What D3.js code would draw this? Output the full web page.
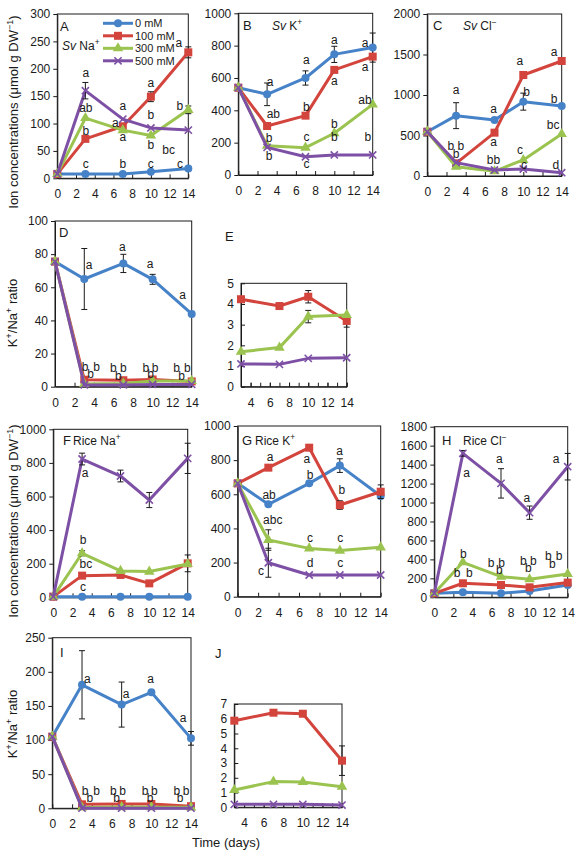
<!DOCTYPE html>
<html><head><meta charset="utf-8">
<script src="https://cdn.jsdelivr.net/npm/d3@7"></script>
<style>
body{margin:0;background:#fff}
svg{display:block}
text{font-family:"Liberation Sans",Arial,sans-serif;fill:#1a1a1a}
</style>
</head><body>
<svg id="chart" width="578" height="852"></svg>
<script>
// ---------- data ----------
const days = [0, 3, 7, 10, 14];
const daysSub = [3, 7, 10, 14];
const treatments = ["0 mM", "100 mM", "300 mM", "500 mM"];
const xTicksFull = [0, 2, 4, 6, 8, 10, 12, 14];
const xTicksSub = [4, 6, 8, 10, 12, 14];
const xMinorSub = [3, 4, 5, 6, 7, 8, 9, 10, 11, 12, 13, 14];

// A: Sv Na+
const svNa = [[8,8,8,12,18],[8,72,95,149,230],[8,110,88,78,125],[8,160,108,92,88]];
const svNaErr = [[0,0,0,0,0],[0,0,0,9,10],[0,0,0,0,7],[0,15,0,0,0]];
const svNaTicks = [0,50,100,150,200,250,300];
const svNaLetters = [[3.05,192,"a"],[3.05,128,"ab"],[3.05,86,"b"],[3.05,27,"c"],[7,132,"a"],[6.2,102,"a"],[7,75,"a"],[7,27,"b"],[10,175,"a"],[10,116,"b"],[10,61,"b"],[10,27,"c"],[13,248,"a"],[13.1,132,"b"],[11.9,52,"bc"],[13.1,27,"c"]];

// B: Sv K+
const svK = [[540,499,600,746,788],[540,303,367,650,732],[540,181,169,258,437],[540,171,113,124,124]];
const svKErr = [[0,70,44,50,90],[0,0,0,0,0],[0,0,0,0,0],[0,0,0,0,0]];
const svKTicks = [0,200,400,600,800,1000];
const svKLetters = [[3.3,577,"a"],[3.65,381,"ab"],[3.2,233,"b"],[3.2,118,"b"],[7.1,715,"a"],[7.1,423,"b"],[7.1,237,"c"],[7.1,68,"c"],[10,835,"a"],[10,581,"a"],[10,315,"b"],[10,237,"b"],[13.2,820,"a"],[13.2,670,"a"],[13.2,464,"ab"],[13.5,237,"b"]];

// C: Sv Cl-
const svCl = [[547,745,691,918,864],[547,156,535,1247,1420],[547,115,58,198,518],[547,165,74,86,41]];
const svClErr = [[0,160,0,105,0],[0,0,0,0,0],[0,0,0,0,0],[0,0,0,0,0]];
const svClTicks = [0,500,1000,1500,2000];
const svClLetters = [[3,1062,"a"],[2.45,374,"b"],[3.5,374,"b"],[3,272,"b"],[6.9,835,"a"],[6.9,424,"a"],[6.9,206,"bb"],[9.65,1420,"a"],[10.35,1041,"b"],[9.65,329,"c"],[10.07,140,"c"],[13.2,1535,"a"],[13.2,959,"b"],[13.1,630,"bc"],[13.4,136,"d"]];

// D: Sv K+/Na+ ratio
const svRatio = [[75.5,65,74.4,64.8,43.9],[75.5,4.23,3.9,4.35,3.18],[75.5,1.69,1.89,3.39,3.47],[75.5,1.1,1.08,1.37,1.4]];
const svRatioErr = [[0,18.4,5.5,3,0],[0,0,0,0,0],[0,0,0,0,0],[0,0,0,0,0]];
const svRatioTicks = [0,20,40,60,80,100];
const svRatioLetters = [[3.5,73.4,"a"],[3.07,12,"b"],[4.27,12,"b"],[3.65,7.6,"b"],[6.9,84.5,"a"],[5.97,11.7,"b"],[7.0,11.7,"b"],[6.5,6.8,"b"],[9.73,74.4,"a"],[9.3,11.7,"b"],[10.24,11.7,"b"],[9.8,7.6,"b"],[13.07,55.3,"a"],[12.46,11.7,"b"],[13.55,11.7,"b"],[12.97,6.8,"b"]];

// E: Sv ratio, salt treatments only
const svRatioSub = [null,[4.23,3.9,4.35,3.18],[1.69,1.89,3.39,3.47],[1.1,1.08,1.37,1.4]];
const svRatioSubErr = [null,[0,0,0.3,0.3],[0,0,0.3,0],[0,0,0,0]];
const svRatioSubTicks = [0,1,2,3,4,5];

// F: Rice Na+
const riceNa = [[4,4,4,4,4],[4,129,133,83,202],[4,262,157,153,198],[4,823,722,579,827]];
const riceNaErr = [[0,0,0,0,0],[0,0,0,0,50],[0,15,0,0,0],[0,35,35,45,90]];
const riceNaTicks = [0,200,400,600,800,1000];
const riceNaLetters = [[3.3,742,"a"],[3.1,345,"b"],[3.4,202,"bc"],[3.1,63,"c"]];

// G: Rice K+
const riceK = [[664,541,664,768,590],[664,756,873,537,615],[664,332,283,270,289],[664,199,127,127,127]];
const riceKErr = [[0,0,0,40,0],[0,0,0,25,40],[0,60,0,0,0],[0,85,0,0,0]];
const riceKTicks = [0,200,400,600,800,1000];
const riceKLetters = [[3.17,820,"a"],[3.07,596,"ab"],[3.43,449,"abc"],[2.29,150,"c"],[6.76,807,"a"],[7.09,717,"b"],[7.09,346,"c"],[7.09,201,"d"],[9.97,855,"a"],[10.2,625,"b"],[10.03,346,"c"],[10.03,201,"c"]];

// H: Rice Cl-
const riceCl = [[42,53,42,67,130],[42,148,130,105,155],[42,369,218,190,246],[42,1519,1202,893,1378]];
const riceClErr = [[0,0,0,0,0],[0,0,0,0,0],[0,0,0,0,0],[0,30,155,70,140]];
const riceClTicks = [0,200,400,600,800,1000,1200,1400,1600,1800];
const riceClLetters = [[3.4,1315,"a"],[3.05,464,"b"],[2.4,260,"b"],[3.67,260,"b"],[6.83,1459,"a"],[5.95,366,"b"],[7.07,366,"b"],[6.83,288,"b"],[9.7,1055,"a"],[9.35,387,"b"],[10.4,387,"b"],[9.87,306,"b"],[12.78,1459,"a"],[11.97,440,"b"],[13.1,440,"b"],[12.4,352,"b"]];

// I: Rice ratio
const riceRatio = [[105,181,152,170,102.5],[105,5.87,6.41,6.34,3.16],[105,1.17,1.74,1.72,1.4],[105,0.2,0.2,0.2,0.15]];
const riceRatioErr = [[0,50,33,0,10],[0,0,0,0,0],[0,0,0,0,0],[0,0,0,0,0]];
const riceRatioTicks = [0,50,100,150,200,250];
const riceRatioLetters = [[3.53,190,"a"],[3.3,25,"b"],[4.48,25,"b"],[3.8,15.6,"b"],[7.44,168,"a"],[6.16,25,"b"],[7.1,25,"b"],[6.5,15.6,"b"],[9.93,190,"a"],[9.36,25,"b"],[10.3,25,"b"],[9.87,15.6,"b"],[13.2,133,"a"],[12.56,25,"b"],[13.5,25,"b"],[12.9,15.6,"b"]];

// J: Rice ratio, salt treatments only
const riceRatioSub = [null,[5.87,6.41,6.34,3.16],[1.17,1.74,1.72,1.4],[0.2,0.2,0.2,0.15]];
const riceRatioSubErr = [null,[0,0,0,1.0],[0,0,0,0],[0,0,0,0]];
const riceRatioSubTicks = [0,1,2,3,4,5,6,7];

// ---------- styles ----------
const colors = ["#4682C8", "#D2443C", "#9BC350", "#7D50A5"];
const markerShapes = ["circle", "square", "triangle", "cross"];

const svg = d3.select("#chart");

function rich(sel, parts) {
  parts.forEach(p => {
    const t = sel.append("tspan").text(p[0]);
    if (p[1] === "it") t.attr("font-style", "italic");
    if (p[1] === "sup") t.attr("baseline-shift", "super").attr("font-size", "70%");
  });
}

function drawMarker(g, shape, cx, cy, color) {
  if (shape === "circle") {
    g.append("circle").attr("cx", cx).attr("cy", cy).attr("r", 4).attr("fill", color);
  } else if (shape === "square") {
    g.append("rect").attr("x", cx - 4).attr("y", cy - 4).attr("width", 8).attr("height", 8).attr("fill", color);
  } else if (shape === "triangle") {
    const s = d3.symbol().type(d3.symbolTriangle).size(48);
    g.append("path").attr("d", s()).attr("transform", `translate(${cx},${cy})`).attr("fill", color);
  } else {
    const r = 3.6;
    g.append("path").attr("d", `M${cx-r},${cy-r}L${cx+r},${cy+r}M${cx-r},${cy+r}L${cx+r},${cy-r}`)
      .attr("stroke", color).attr("stroke-width", 1.6).attr("fill", "none");
  }
}

function drawPanel(cfg) {
  const g = svg.append("g");
  const [x0, x1, yT, yB] = cfg.box;
  const x = d3.scaleLinear().domain(cfg.xd).range([x0, x1]);
  const y = d3.scaleLinear().domain(cfg.yd).range([yB, yT]);

  // x axis (ticks inward)
  const xa = g.append("g").attr("transform", `translate(0,${yB})`)
    .call(d3.axisBottom(x).tickValues(cfg.xTicks).tickSizeInner(-4).tickSizeOuter(0).tickPadding(11.5).tickFormat(d3.format("d")));
  if (cfg.minor) {
    g.append("g").attr("transform", `translate(0,${yB})`)
      .call(d3.axisBottom(x).tickValues(cfg.minor).tickSizeInner(-4).tickSizeOuter(0).tickFormat(""))
      .call(s => s.select(".domain").remove());
  }
  // y axis
  const inward = !!cfg.sub;
  g.append("g").attr("transform", `translate(${x0},0)`)
    .call(d3.axisLeft(y).tickValues(cfg.yTicks).tickSizeInner(inward ? -4 : 4).tickSizeOuter(0).tickPadding(inward ? 7 : 3).tickFormat(d3.format("d")));
  g.selectAll(".tick text").attr("font-size", 12).attr("font-family", '"Liberation Sans",Arial,sans-serif').attr("fill", "#1a1a1a");
  g.selectAll(".tick line, .domain").attr("stroke", "#1a1a1a");

  // frame
  g.append("rect").attr("x", x0).attr("y", yT).attr("width", x1 - x0).attr("height", yB - yT)
    .attr("fill", "none").attr("stroke", "#1a1a1a").attr("stroke-width", 1);

  // series
  cfg.data.forEach((vals, si) => {
    if (!vals) return;
    const pts = vals.map((v, i) => [cfg.x[i], v]);
    const line = d3.line().x(d => x(d[0])).y(d => y(d[1]));
    g.append("path").attr("d", line(pts)).attr("fill", "none").attr("stroke", colors[si])
      .attr("stroke-width", 3).attr("stroke-linejoin", "round");
    const errs = cfg.err[si];
    pts.forEach((p, i) => {
      const e = errs ? errs[i] : 0;
      if (e > 0) {
        const cx = x(p[0]), top = y(p[1] + e), bot = y(p[1] - e);
        g.append("path").attr("d", `M${cx},${top}V${bot}M${cx-3},${top}H${cx+3}M${cx-3},${bot}H${cx+3}`)
          .attr("stroke", "#1a1a1a").attr("stroke-width", 1).attr("fill", "none");
      }
    });
    pts.forEach(p => drawMarker(g, markerShapes[si], x(p[0]), y(p[1]), colors[si]));
  });

  // significance letters
  (cfg.letters || []).forEach(l => {
    g.append("text").attr("x", x(l[0])).attr("y", y(l[1])).attr("dy", "0.35em")
      .attr("text-anchor", "middle").attr("font-size", 12).text(l[2]);
  });

  // panel label + title
  g.append("text").attr("x", cfg.labelPos[0]).attr("y", cfg.labelPos[1]).attr("font-size", 13).text(cfg.label);
  if (cfg.title) {
    const t = g.append("text").attr("x", cfg.titlePos[0]).attr("y", cfg.titlePos[1]).attr("font-size", 12);
    rich(t, cfg.title);
  }
  return {x, y};
}

const panels = [
  {label:"A", labelPos:[60,31], title:[["Sv","it"],[" Na",""],["+","sup"]], titlePos:[62,50], box:[57.3,188.3,14,178.3], xd:[0,14], x:days, xTicks:xTicksFull, yd:[0,300], yTicks:svNaTicks, data:svNa, err:svNaErr, letters:svNaLetters},
  {label:"B", labelPos:[243,30], title:[["Sv","it"],[" K",""],["+","sup"]], titlePos:[272,30], box:[238.3,372.7,13.3,175], xd:[0,14], x:days, xTicks:xTicksFull, yd:[0,1000], yTicks:svKTicks, data:svK, err:svKErr, letters:svKLetters},
  {label:"C", labelPos:[433,30], title:[["Sv","it"],[" Cl",""],["\u2212","sup"]], titlePos:[463,30], box:[427.3,561.7,14,176], xd:[0,14], x:days, xTicks:xTicksFull, yd:[0,2000], yTicks:svClTicks, data:svCl, err:svClErr, letters:svClLetters},
  {label:"D", labelPos:[59,237], box:[55,191.7,221,386.7], xd:[0,14], x:days, xTicks:xTicksFull, yd:[0,100], yTicks:svRatioTicks, data:svRatio, err:svRatioErr, letters:svRatioLetters},
  {label:"E", labelPos:[225,241], sub:true, box:[241,346.7,283.3,386.7], xd:[3,14], x:daysSub, xTicks:xTicksSub, minor:xMinorSub, yd:[0,5], yTicks:svRatioSubTicks, data:svRatioSub, err:svRatioSubErr},
  {label:"F", labelPos:[63,445], title:[["Rice Na",""],["+","sup"]], titlePos:[73,445], box:[53.3,187.7,429.3,597.3], xd:[0,14], x:days, xTicks:xTicksFull, yd:[0,1000], yTicks:riceNaTicks, data:riceNa, err:riceNaErr, letters:riceNaLetters},
  {label:"G", labelPos:[242,445], title:[["Rice K",""],["+","sup"]], titlePos:[255,445], box:[237.7,380.7,426,596.7], xd:[0,14], x:days, xTicks:xTicksFull, yd:[0,1000], yTicks:riceKTicks, data:riceK, err:riceKErr, letters:riceKLetters},
  {label:"H", labelPos:[442,445], title:[["Rice Cl",""],["\u2212","sup"]], titlePos:[463,445], box:[434.3,567.7,426.7,597.3], xd:[0,14], x:days, xTicks:xTicksFull, yd:[0,1800], yTicks:riceClTicks, data:riceCl, err:riceClErr, letters:riceClLetters},
  {label:"I", labelPos:[60,657], box:[52.3,191,637.7,808.3], xd:[0,14], x:days, xTicks:xTicksFull, yd:[0,250], yTicks:riceRatioTicks, data:riceRatio, err:riceRatioErr, letters:riceRatioLetters},
  {label:"J", labelPos:[215,658], sub:true, box:[234.3,342,704,807.3], xd:[3,14], x:daysSub, xTicks:xTicksSub, minor:xMinorSub, yd:[0,7], yTicks:riceRatioSubTicks, data:riceRatioSub, err:riceRatioSubErr}
];

panels.forEach(drawPanel);

// legend (inside panel A)
const lg = svg.append("g");
treatments.forEach((name, i) => {
  const ly = 23.3 + i * 12.5;
  lg.append("line").attr("x1", 103).attr("x2", 133).attr("y1", ly).attr("y2", ly)
    .attr("stroke", colors[i]).attr("stroke-width", 3);
  drawMarker(lg, markerShapes[i], 118, ly, colors[i]);
  lg.append("text").attr("x", 135).attr("y", ly).attr("dy", "0.35em").attr("font-size", 11).text(name);
});

// axis titles
function vTitle(cx, cy, parts) {
  const t = svg.append("text").attr("transform", `translate(${cx},${cy}) rotate(-90)`)
    .attr("text-anchor", "middle").attr("font-size", 13);
  rich(t, parts);
}
const ionTitle = [["Ion concentrations (\u03bcmol g DW",""],["\u22121","sup"],[")",""]];
const ratioTitle = [["K",""],["+","sup"],["/Na",""],["+","sup"],[" ratio",""]];
vTitle(18, 112, ionTitle);
vTitle(18, 521, ionTitle);
vTitle(17, 313, ratioTitle);
vTitle(17, 724, ratioTitle);
svg.append("text").attr("x", 226).attr("y", 847).attr("text-anchor", "middle").attr("font-size", 13).text("Time (days)");
</script>
</body></html>
